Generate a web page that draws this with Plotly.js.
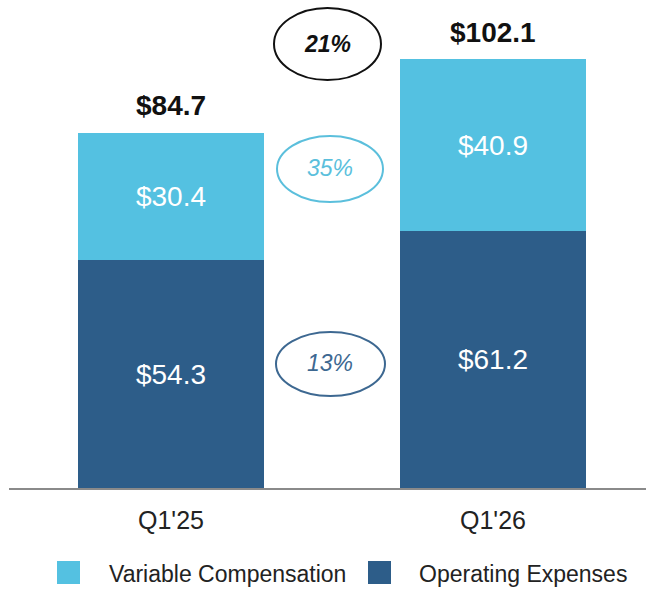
<!DOCTYPE html>
<html>
<head>
<meta charset="utf-8">
<script src="https://cdn.plot.ly/plotly-3.0.1.min.js"></script>
<style>html,body{margin:0;padding:0;background:#fff;}#chart{width:646px;height:590px;}</style>
</head>
<body>
<div id="chart"></div>
<script>
// ---- data ----
const categories = ["Q1'25", "Q1'26"];
const operatingExpenses = [54.3, 61.2];
const variableCompensation = [30.4, 40.9];
const seriesNames = ["Variable Compensation", "Operating Expenses"];
const changeTotal = "21%";
const changeVariable = "35%";
const changeOperating = "13%";

// ---- styling ----
const LIGHT = '#54c1e1';
const DARK = '#2d5d89';
const FONT = 'Liberation Sans, Arial, sans-serif';
const W = 646, H = 590, ML = 9, MB = 102, MT = 0, MR = 0;
const PW = W - ML - MR, PH = H - MT - MB;
const px = x => (x - ML) / PW;
const py = y => (PH + MT - y) / PH;

const totals = categories.map((c, i) => +(operatingExpenses[i] + variableCompensation[i]).toFixed(1));

const traces = [
  {
    type: 'bar', x: categories, y: operatingExpenses, name: seriesNames[1],
    marker: {color: DARK}, width: 0.5776,
    text: operatingExpenses.map(v => '$' + v.toFixed(1)),
    textposition: 'inside', insidetextanchor: 'middle', textangle: 0,
    textfont: {color: '#ffffff', size: 28, family: FONT},
    hoverinfo: 'skip', showlegend: false
  },
  {
    type: 'bar', x: categories, y: variableCompensation, name: seriesNames[0],
    marker: {color: LIGHT}, width: 0.5776,
    text: variableCompensation.map(v => '$' + v.toFixed(1)),
    textposition: 'inside', insidetextanchor: 'middle', textangle: 0,
    textfont: {color: '#ffffff', size: 28, family: FONT},
    hoverinfo: 'skip', showlegend: false
  }
];

const annotations = categories.map((c, i) => ({
  x: c, y: totals[i], xref: 'x', yref: 'y',
  text: '<b>$' + totals[i].toFixed(1) + '</b>',
  showarrow: false, yanchor: 'middle', yshift: 27,
  font: {size: 28, color: '#111111', family: FONT}
}));

function ellipseLabel(cx, cy, text, color, bold) {
  return {
    x: px(cx), y: py(cy), xref: 'paper', yref: 'paper',
    text: bold ? '<b><i>' + text + '</i></b>' : '<i>' + text + '</i>',
    showarrow: false, xanchor: 'center', yanchor: 'middle',
    font: {size: 23, color: color, family: FONT}
  };
}
annotations.push(ellipseLabel(328, 44, changeTotal, '#111111', true));
annotations.push(ellipseLabel(330, 168, changeVariable, '#5bbfdc', false));
annotations.push(ellipseLabel(330, 363, changeOperating, '#3d6891', false));

// legend text
annotations.push({x: px(107), y: py(574), xref: 'paper', yref: 'paper', xanchor: 'left', yanchor: 'middle',
  text: seriesNames[0], showarrow: false, font: {size: 23, color: '#222222', family: FONT}});
annotations.push({x: px(417), y: py(574), xref: 'paper', yref: 'paper', xanchor: 'left', yanchor: 'middle',
  text: seriesNames[1], showarrow: false, font: {size: 23, color: '#222222', family: FONT}});

const shapes = [
  {type: 'circle', xref: 'paper', yref: 'paper', x0: px(274), x1: px(381), y0: py(8), y1: py(80),
   line: {color: '#111111', width: 2}},
  {type: 'circle', xref: 'paper', yref: 'paper', x0: px(277), x1: px(383), y0: py(136), y1: py(202),
   line: {color: '#5bbfdc', width: 2}},
  {type: 'circle', xref: 'paper', yref: 'paper', x0: px(276), x1: px(385), y0: py(332), y1: py(396),
   line: {color: '#3d6891', width: 2}},
  {type: 'rect', xref: 'paper', yref: 'paper', x0: px(57), x1: px(80), y0: py(561), y1: py(584),
   fillcolor: LIGHT, line: {width: 0}},
  {type: 'rect', xref: 'paper', yref: 'paper', x0: px(368), x1: px(391), y0: py(561), y1: py(584),
   fillcolor: DARK, line: {width: 0}}
];

const layout = {
  width: W, height: H,
  margin: {l: ML, r: MR, t: MT, b: MB, pad: 0},
  paper_bgcolor: '#ffffff', plot_bgcolor: '#ffffff',
  barmode: 'stack',
  showlegend: false,
  xaxis: {
    type: 'category', range: [-0.5031, 1.4752], fixedrange: true,
    showline: true, linecolor: '#8a8a8a', linewidth: 2, showgrid: false, zeroline: false,
    ticks: '', ticklabelstandoff: 9,
    tickfont: {size: 25, color: '#222222', family: FONT}
  },
  yaxis: {
    range: [0, 116.27], visible: false, fixedrange: true, showgrid: false, zeroline: false
  },
  annotations: annotations,
  shapes: shapes,
  font: {family: FONT}
};

Plotly.newPlot('chart', traces, layout, {displayModeBar: false, staticPlot: true});
</script>
</body>
</html>
